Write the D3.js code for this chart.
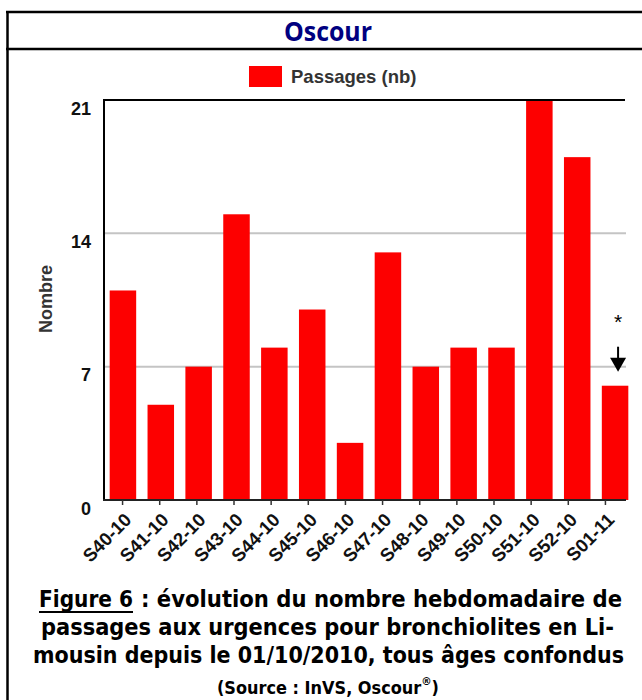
<!DOCTYPE html>
<html>
<head>
<meta charset="utf-8">
<script src="https://cdn.jsdelivr.net/npm/d3@7"></script>
<style>
  body { margin: 0; background: #fff; }
  svg { display: block; }
  .ttl { font-family: "Open Sans", "DejaVu Sans", sans-serif; font-weight: 700; }
  .cap { font-family: "DejaVu Sans Condensed", "DejaVu Sans", sans-serif; font-weight: 700; }
  .ar { font-family: "Liberation Sans", Arial, sans-serif; font-weight: 700; }
</style>
</head>
<body>
<svg id="chart" width="642" height="700"></svg>
<script>
// weekly data
var weeks = ["S40-10", "S41-10", "S42-10", "S43-10", "S44-10", "S45-10", "S46-10",
             "S47-10", "S48-10", "S49-10", "S50-10", "S51-10", "S52-10", "S01-11"];
var passages = [11, 5, 7, 15, 8, 10, 3, 13, 7, 8, 8, 21, 18, 6];
var yTicks = [0, 7, 14, 21];
var seriesName = "Passages (nb)";
var flaggedWeek = "S01-11";

var svg = d3.select("#chart");

// frame around the figure
svg.append("line").attr("x1", 7.5).attr("x2", 7.5).attr("y1", 11).attr("y2", 700)
  .attr("stroke", "#000").attr("stroke-width", 2.5);
svg.append("line").attr("x1", 6).attr("x2", 642).attr("y1", 12).attr("y2", 12)
  .attr("stroke", "#000").attr("stroke-width", 2.5);
svg.append("line").attr("x1", 6).attr("x2", 642).attr("y1", 49).attr("y2", 49)
  .attr("stroke", "#000").attr("stroke-width", 2.5);

svg.append("text").attr("class", "ttl").attr("x", 284).attr("y", 41)
  .attr("font-size", 26).attr("fill", "#000080")
  .attr("textLength", 88).attr("lengthAdjust", "spacingAndGlyphs")
  .text("Oscour");

// legend
svg.append("rect").attr("x", 249).attr("y", 66).attr("width", 33).attr("height", 21)
  .attr("fill", "#ff0000");
svg.append("text").attr("class", "ar").attr("x", 291).attr("y", 83)
  .attr("font-size", 18.5).attr("fill", "#333")
  .text(seriesName);

// scales
var y = d3.scaleLinear().domain([0, 21]).range([500, 100]);
var xBar = d3.scaleBand().domain(weeks).range([104, 634]).paddingInner(0.3).paddingOuter(0.15);
var xTick = d3.scaleBand().domain(weeks).range([104, 624]).paddingInner(0.3).paddingOuter(0.15);

// gridlines
svg.append("g").selectAll("line")
  .data(yTicks.filter(function(d) { return d > 0 && d < 21; }))
  .enter().append("line")
  .attr("x1", 104).attr("x2", 626)
  .attr("y1", function(d) { return y(d); }).attr("y2", function(d) { return y(d); })
  .attr("stroke", "#c4c4c4").attr("stroke-width", 2);

// bars
svg.append("g").selectAll("rect")
  .data(passages)
  .enter().append("rect")
  .attr("x", function(d, i) { return xBar(weeks[i]); })
  .attr("y", function(d) { return y(d); })
  .attr("width", xBar.bandwidth())
  .attr("height", function(d) { return y(0) - y(d); })
  .attr("fill", "#fd0000");

// axis lines
svg.append("line").attr("x1", 104).attr("x2", 104).attr("y1", 99).attr("y2", 501)
  .attr("stroke", "#000").attr("stroke-width", 2);
svg.append("line").attr("x1", 103).attr("x2", 625).attr("y1", y(21)).attr("y2", y(21))
  .attr("stroke", "#000").attr("stroke-width", 2);
svg.append("line").attr("x1", 103).attr("x2", 626).attr("y1", y(0)).attr("y2", y(0))
  .attr("stroke", "#222").attr("stroke-width", 2);

// y tick labels hang under their value
svg.append("g").selectAll("text")
  .data(yTicks)
  .enter().append("text")
  .attr("class", "ar")
  .attr("x", 91)
  .attr("y", function(d) { return y(d) + 14.5; })
  .attr("text-anchor", "end")
  .attr("font-size", 18)
  .attr("fill", "#111")
  .text(function(d) { return d; });

svg.append("text").attr("class", "ar")
  .attr("transform", "translate(52,299) rotate(-90)")
  .attr("text-anchor", "middle").attr("font-size", 18).attr("fill", "#333")
  .text("Nombre");

// x axis
var xAxis = svg.append("g")
  .attr("transform", "translate(0," + y(0) + ")")
  .call(d3.axisBottom(xTick).tickSize(5).tickSizeOuter(0));
xAxis.select(".domain").remove();
xAxis.selectAll(".tick line").attr("stroke", "#333").attr("stroke-width", 1.5);
xAxis.selectAll(".tick text")
  .attr("class", "ar")
  .attr("x", 0).attr("y", 0).attr("dy", null)
  .attr("transform", "translate(10,21) rotate(-45)")
  .attr("text-anchor", "end")
  .attr("font-size", 18.5)
  .attr("fill", "#111");

// provisional-week marker
var fx = xBar(flaggedWeek) + xBar.bandwidth() / 2 + 3;
var fy = y(passages[weeks.indexOf(flaggedWeek)]);
svg.append("text").attr("x", fx).attr("y", fy - 57)
  .attr("text-anchor", "middle").attr("font-family", "Liberation Sans, Arial, sans-serif")
  .attr("font-size", 21).text("*");
svg.append("line").attr("x1", fx).attr("x2", fx).attr("y1", fy - 39).attr("y2", fy - 26)
  .attr("stroke", "#000").attr("stroke-width", 2);
svg.append("path")
  .attr("d", "M" + (fx - 8) + "," + (fy - 28) + "L" + (fx + 8) + "," + (fy - 28) + "L" + fx + "," + (fy - 14) + "Z")
  .attr("fill", "#000");

// caption
function capLine(str, x, yy, len) {
  return svg.append("text").attr("class", "cap")
    .attr("x", x).attr("y", yy).attr("font-size", 23).attr("fill", "#000")
    .attr("textLength", len).attr("lengthAdjust", "spacingAndGlyphs")
    .text(str);
}
capLine("Figure 6", 39, 607, 94);
svg.append("line").attr("x1", 39).attr("x2", 133).attr("y1", 612).attr("y2", 612)
  .attr("stroke", "#000").attr("stroke-width", 1.8);
capLine(": évolution du nombre hebdomadaire de", 141, 607, 481);
capLine("passages aux urgences pour bronchiolites en Li-", 41, 635, 573);
capLine("mousin depuis le 01/10/2010, tous âges confondus", 33, 663, 591);

var src = svg.append("text").attr("class", "cap")
  .attr("x", 217).attr("y", 694).attr("font-size", 17).attr("fill", "#000")
  .attr("textLength", 222).attr("lengthAdjust", "spacingAndGlyphs");
src.append("tspan").text("(Source : InVS, Oscour");
src.append("tspan").attr("font-size", 11).attr("dy", -9).text("®");
src.append("tspan").attr("dy", 9).text(")");
</script>
</body>
</html>
